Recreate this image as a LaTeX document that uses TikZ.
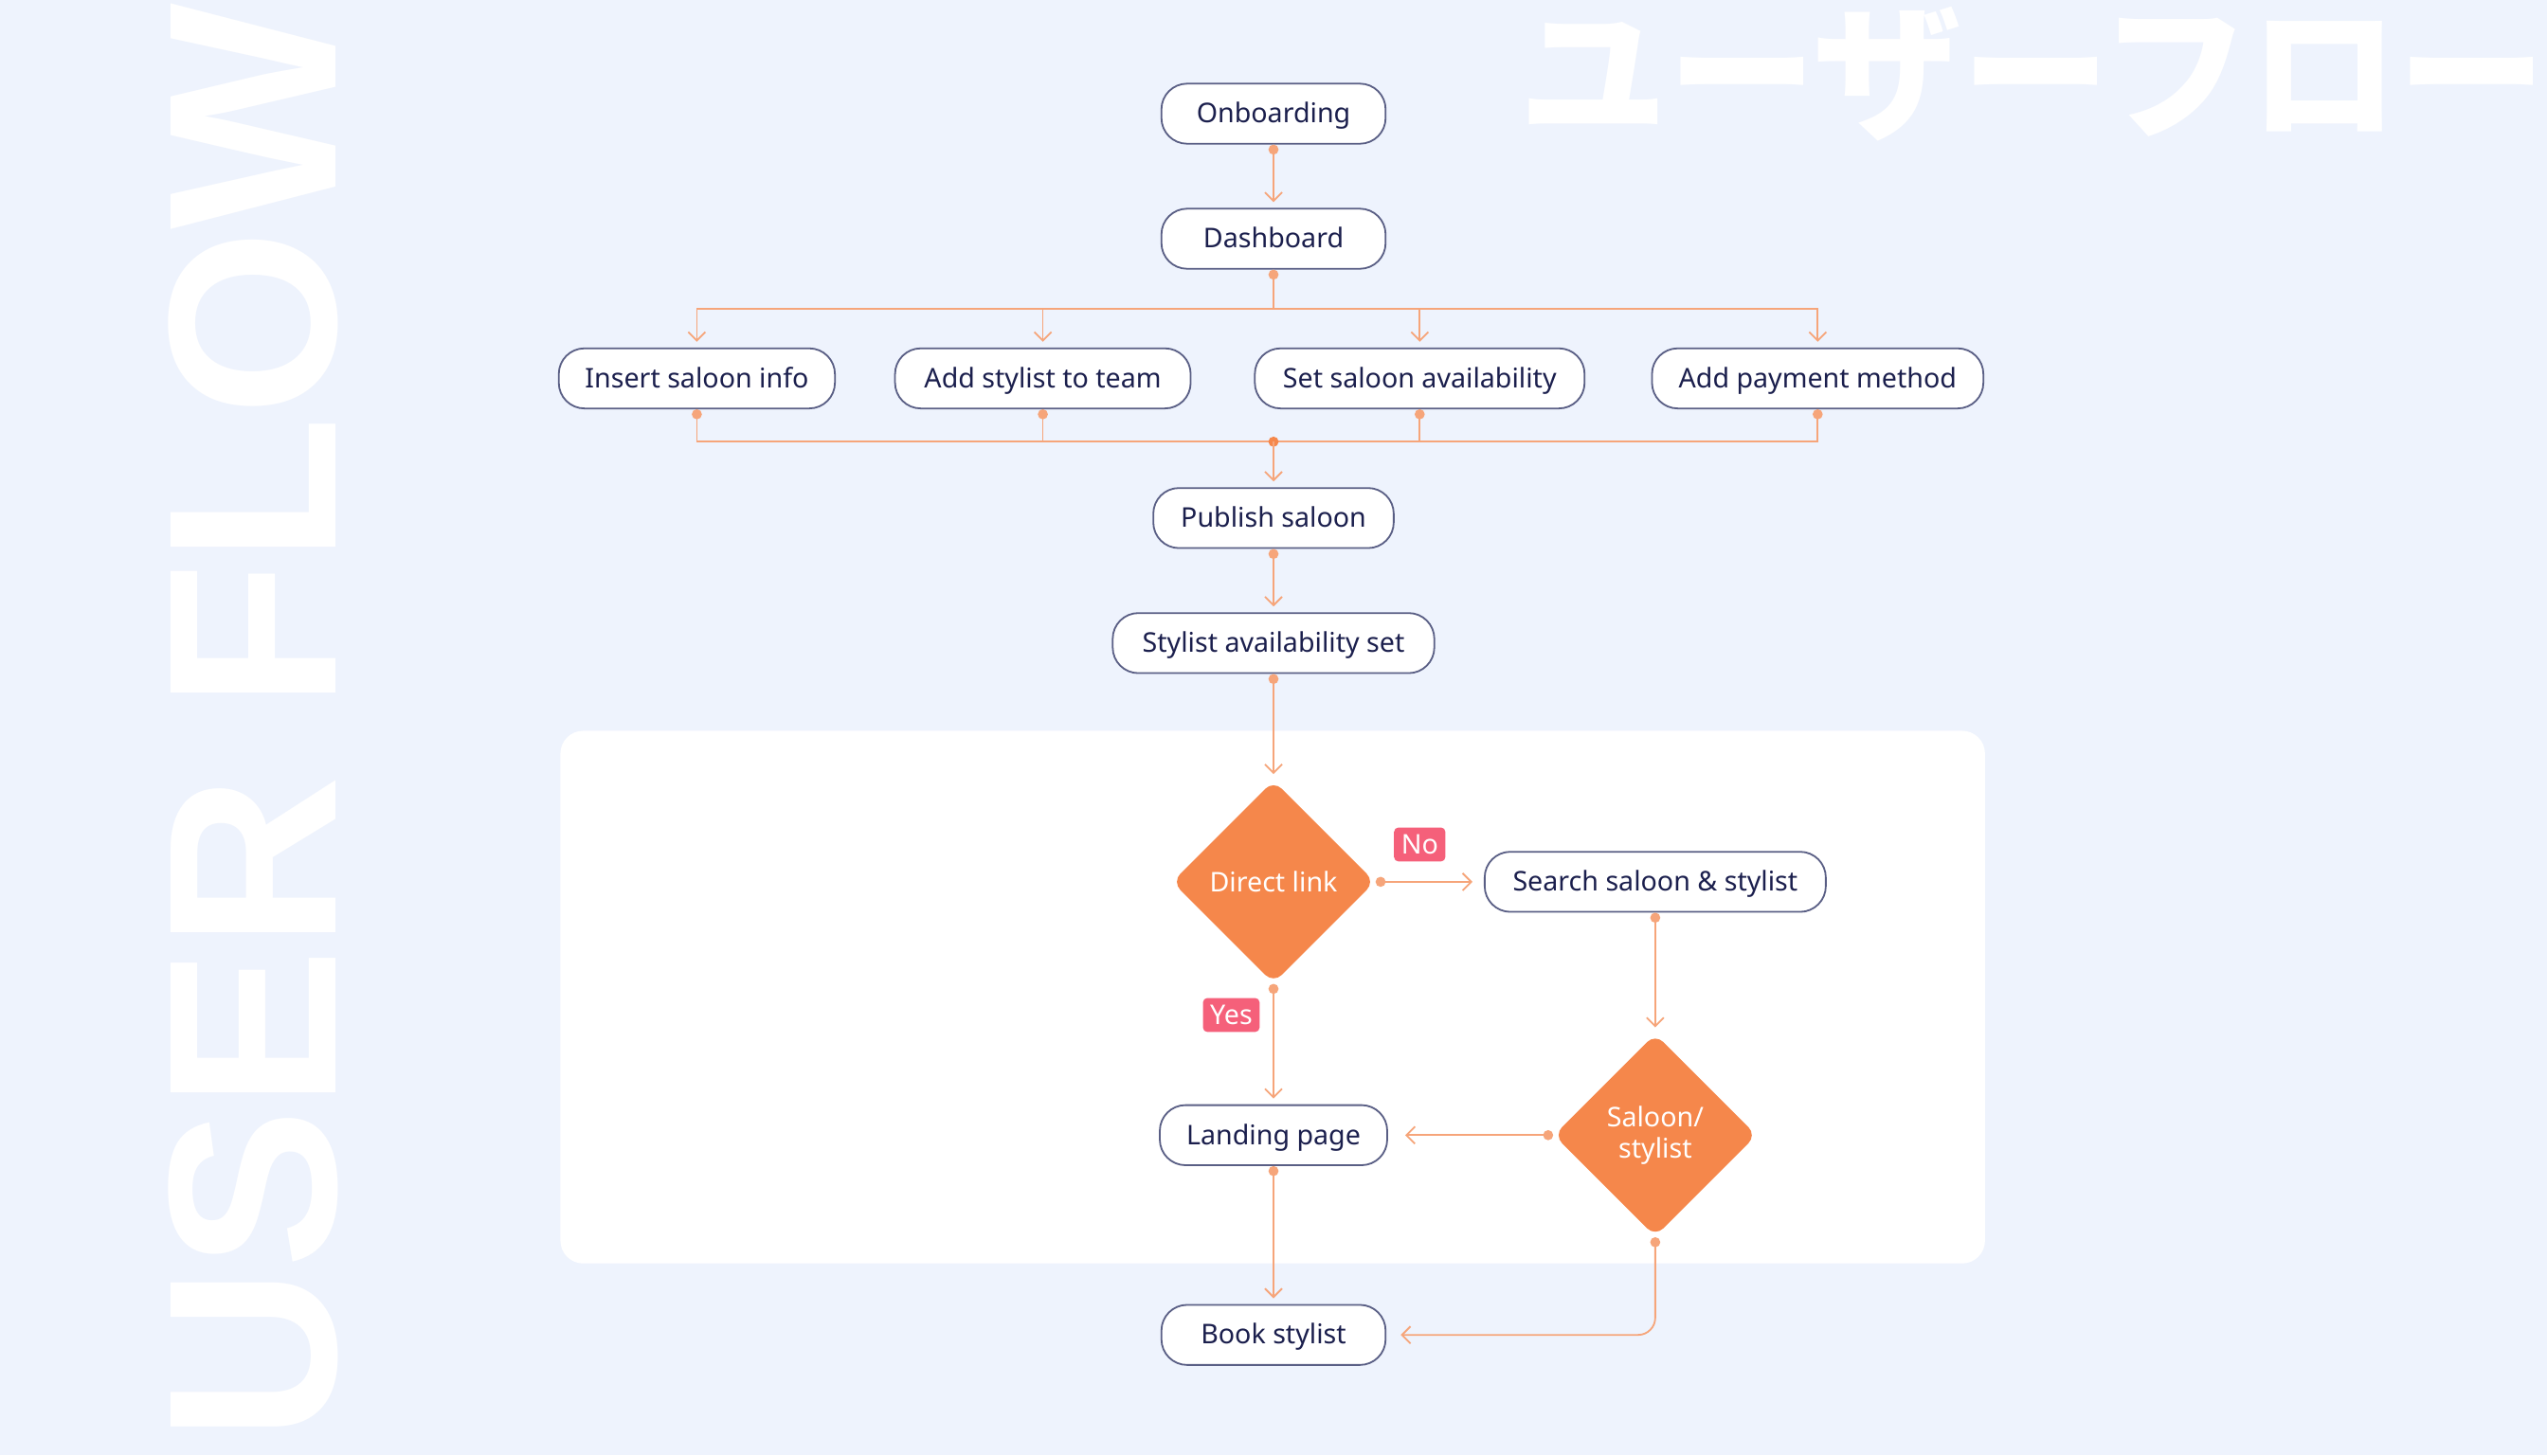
\documentclass[tikz,border=0pt]{standalone}
\usepackage{fontspec}
\setmainfont{Noto Sans}
\newfontfamily\titlefont{Liberation Sans}
\newfontfamily\cjk{Noto Sans CJK JP}
\usetikzlibrary{arrows.meta,shapes.geometric,positioning}
\definecolor{bgblue}{HTML}{EEF3FD}
\definecolor{navy}{HTML}{1B1F4D}
\definecolor{edge}{HTML}{5A5F85}
\definecolor{orng}{HTML}{F5874B}
\definecolor{lineor}{HTML}{F6A57A}
\definecolor{pinklab}{HTML}{F5607A}
\begin{document}
\begin{tikzpicture}[%
% common options for the rounded stages:
stage/.style = {draw=edge, line width=0.6pt, fill=white, rounded corners=9pt,
            minimum height=0.74cm, inner xsep=0, text height=1.5ex, text depth=0.3ex,
            font=\fontsize{9.5}{11}\selectfont, text=navy},
% common options for the decisions:
choice/.style = {diamond, aspect=1, fill=orng, rounded corners=4pt, minimum size=2.5cm,
            inner sep=0, align=center, text=white, font=\fontsize{9.5}{11}\selectfont},
tag/.style = {fill=pinklab, text=white, rounded corners=1.5pt, inner sep=2.5pt,
            font=\fontsize{9.5}{11}\selectfont},
flow/.style = {draw=lineor, line width=0.6pt, {Circle[length=3.5pt]}-{Straight Barb[length=3pt,width=6pt]}, shorten >=2pt},
flowb/.style = {draw=lineor, line width=0.6pt, -{Straight Barb[length=3pt,width=6pt]}, shorten >=2pt},
bus/.style = {draw=lineor, line width=0.6pt}]
\fill[bgblue] (0,0) rectangle (31.36,-17.92);
\clip (0,0) rectangle (31.36,-17.92);
% big background titles
\node[rotate=90, anchor=base west, inner sep=0, text=white,
      font=\titlefont\bfseries\fontsize{84}{84}\selectfont] (ttl) at (4.14,-17.76) {USER FLOW};
\node[anchor=base west, inner sep=0, text=white,
      font=\cjk\bfseries\fontsize{52}{52}\selectfont] (jp) at (18.7,-1.58) {ユーザーフロー};
% white panel
\fill[white, rounded corners=8pt] (6.90,-9.00) rectangle (24.44,-15.56);
% stages
\node[stage, minimum width=2.76cm] (onb) at (15.68,-1.40) {Onboarding};
\node[stage, minimum width=2.76cm] (dash) at (15.68,-2.94) {Dashboard};
\node[stage, minimum width=3.40cm] (ins) at (8.58,-4.66) {Insert saloon info};
\node[stage, minimum width=3.64cm] (team) at (12.84,-4.66) {Add stylist to team};
\node[stage, minimum width=4.06cm] (avail) at (17.48,-4.66) {Set saloon availability};
\node[stage, minimum width=4.08cm] (pay) at (22.38,-4.66) {Add payment method};
\node[stage, minimum width=2.96cm] (pub) at (15.68,-6.38) {Publish saloon};
\node[stage, minimum width=3.96cm] (sty) at (15.68,-7.92) {Stylist availability set};
\node[choice] (direct) at (15.68,-10.86) {Direct link};
\node[stage, minimum width=4.20cm] (search) at (20.38,-10.86) {Search saloon \& stylist};
\node[stage, minimum width=2.80cm] (land) at (15.68,-13.98) {Landing page};
\node[choice] (salon) at (20.38,-13.98) {Saloon/\\stylist};
\node[stage, minimum width=2.76cm] (book) at (15.68,-16.44) {Book stylist};
\node[tag] (no) at (17.48,-10.40) {No};
\node[tag] (yes) at (15.16,-12.50) {Yes};
% junctions
\coordinate (bus1) at (15.68,-3.80);
\coordinate (bus2) at (15.68,-5.44);
% connectors
\draw[flow] (onb.south) -- (dash.north);
\draw[bus, {Circle[length=3.5pt]}-] (dash.south) -- (bus1);
\draw[flowb] (bus1) -| (ins.north);
\draw[flowb] (bus1) -| (team.north);
\draw[flowb] (bus1) -| (avail.north);
\draw[flowb] (bus1) -| (pay.north);
\draw[bus, {Circle[length=3.5pt]}-] (ins.south) |- (bus2);
\draw[bus, {Circle[length=3.5pt]}-] (team.south) |- (bus2);
\draw[bus, {Circle[length=3.5pt]}-] (avail.south) |- (bus2);
\draw[bus, {Circle[length=3.5pt]}-] (pay.south) |- (bus2);
\fill[orng] (bus2) circle (1.8pt);
\draw[flowb] (bus2) -- (pub.north);
\draw[flow] (pub.south) -- (sty.north);
\draw[flow] (sty.south) -- (direct.north);
\draw[flow] (direct.east) -- ([xshift=-2pt]search.west);
\draw[flow] (direct.south) -- (land.north);
\draw[flow] (search.south) -- (salon.north);
\draw[flow] (salon.west) -- ([xshift=4pt]land.east);
\draw[flow] (land.south) -- (book.north);
\draw[flow, rounded corners=6pt] (salon.south) |- ([xshift=3pt]book.east);
\end{tikzpicture}
\end{document}
